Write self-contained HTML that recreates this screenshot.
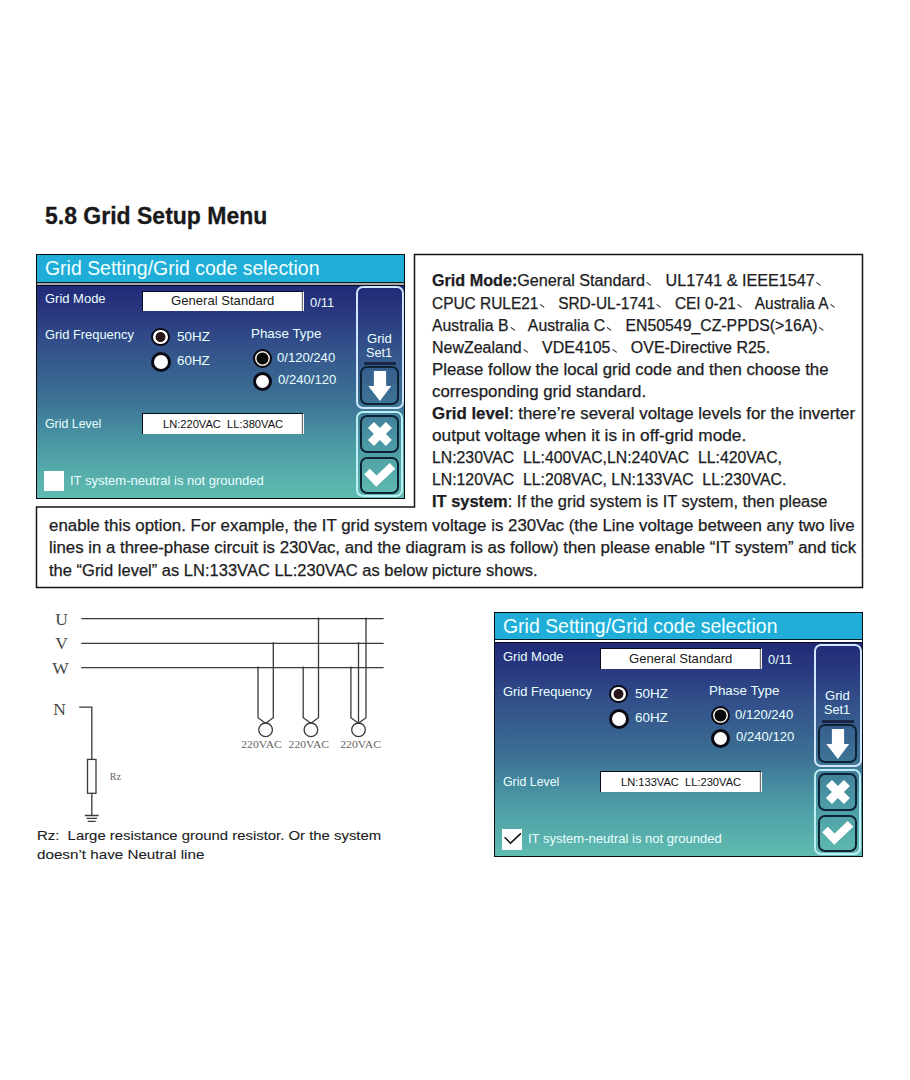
<!DOCTYPE html><html><head><meta charset="utf-8"><style>

*{margin:0;padding:0;box-sizing:border-box}
html,body{width:910px;height:1080px;background:#fff;overflow:hidden;font-family:"Liberation Sans",sans-serif}
.abs{position:absolute}
.ln{position:absolute;white-space:nowrap;color:#1c1c22;transform-origin:0 0;-webkit-text-stroke:0.25px #1c1c22}
.ln b{font-weight:bold}
.C{-webkit-text-stroke:0.1px #1c1c22}
.ic{display:inline-block;width:1em;height:1px;position:relative}
.ic::after{content:"";position:absolute;left:0.14em;top:-0.2em;width:0.34em;height:0.085em;background:#1c1c22;transform:rotate(36deg);transform-origin:0 0}
h1{position:absolute;left:45px;font-weight:bold;color:#1a1a1a;white-space:nowrap;transform-origin:0 0;-webkit-text-stroke:0.3px #1a1a1a}
.panel{position:absolute;width:369px;height:245px;overflow:hidden;background:#20aed8}
.frame{left:0;top:0;width:369px;height:245px;border:1px solid #050a10}
.panel>div,.panel>svg{position:absolute}
.tbar{left:0;top:0;width:369px;height:28px;background:#20aed8}
.sep1{left:0;top:27.5px;width:369px;height:1.5px;background:#071a22}
.sep2{left:0;top:29px;width:369px;height:2px}
.sep3{left:0;top:31px;width:369px;height:1px;background:#0a0c24}
.pbody{left:0;top:32px;width:369px;height:213px;background:linear-gradient(180deg,#222a78 0%,#2a3a80 14%,#33508a 27.7%,#3c7294 53.5%,#4a96a4 72.3%,#55aaaa 86.4%,#60bcb0 100%)}
.ttl{left:8.6px;top:2px;font-size:19.5px;line-height:24px;color:#f2ffff;white-space:nowrap}
.pt{white-space:nowrap;transform-origin:0 0}
.inp{background:#fff;border-top:1.4px solid #0a0a1e;border-left:1px solid #0a0a1e;border-right:1px solid #f4f4f4;box-shadow:inset -1.2px 0 0 #707070}
.rad{border-radius:50%;background:#fff;border:3px solid #0a0a14}
.rad.on{border-width:2px;background:radial-gradient(circle,#2a161a 0,#2a161a 4.6px,#fff 5.3px)}
.rad.on2{border-width:2.8px;background:radial-gradient(circle,#080808 0,#080808 5.6px,#f0e8dc 6.3px)}
.chk{width:20.6px;height:20.6px;background:#fff}
.ck{position:absolute}
.grp{border:2px solid #cfe6fc;border-radius:7px}
.grp2{border-color:#bdf0f4}
.dl{background:#1a2644}
.btn{border:2px solid #0e2236;border-radius:7px}
.ic2{left:0;top:0}

</style></head><body>
<h1 style="top:204.53px;font-size:23.0px;line-height:23.0px;transform:scaleX(0.9998)">5.8 Grid Setup Menu</h1>
<div class="panel" style="left:36px;top:254px">
<div class="tbar" style="height:28px"></div><div class="sep1" style="top:27.5px"></div><div class="sep2" style="background:#a8a8a8;top:29px"></div><div class="sep3" style="top:31px"></div><div class="pbody" style="top:32px;height:213px"></div>
<div class="pt" style="left:8.54px;top:5.00px;font-size:19.5px;line-height:19.5px;color:#f2ffff;transform:scaleX(0.9969);">Grid Setting/Grid code selection</div>
<div class="pt" style="left:8.65px;top:38.41px;font-size:13px;line-height:13px;color:#eaffff;transform:scaleX(0.9982);">Grid Mode</div>
<div class="inp" style="left:106px;top:36.6px;width:162px;height:20.4px"></div>
<div class="pt" style="left:135.17px;top:40.10px;font-size:13px;line-height:13px;color:#1a1a1a;transform:scaleX(1.0073);">General Standard</div>
<div class="pt" style="left:274.47px;top:41.68px;font-size:13px;line-height:13px;color:#eaffff;transform:scaleX(0.9887);">0/11</div>
<div class="pt" style="left:8.61px;top:74.44px;font-size:13px;line-height:13px;color:#eaffff;transform:scaleX(0.9918);">Grid Frequency</div>
<div class="rad on" style="left:115.1px;top:73.7px;width:18.6px;height:18.6px"></div>
<div class="rad" style="left:114.5px;top:98.25px;width:20px;height:20px"></div>
<div class="pt" style="left:140.60px;top:75.64px;font-size:13px;line-height:13px;color:#eaffff;transform:scaleX(1.0334);">50HZ</div>
<div class="pt" style="left:140.94px;top:100.00px;font-size:13px;line-height:13px;color:#eaffff;transform:scaleX(1.0325);">60HZ</div>
<div class="pt" style="left:215.05px;top:72.88px;font-size:13px;line-height:13px;color:#eaffff;transform:scaleX(1.0287);">Phase Type</div>
<div class="rad on2" style="left:216.6px;top:95px;width:19px;height:19px"></div>
<div class="rad" style="left:216.5px;top:118px;width:19.4px;height:19.4px"></div>
<div class="pt" style="left:241.41px;top:96.87px;font-size:13px;line-height:13px;color:#eaffff;transform:scaleX(1.0056);">0/120/240</div>
<div class="pt" style="left:242.16px;top:119.14px;font-size:13px;line-height:13px;color:#eaffff;transform:scaleX(1.0065);">0/240/120</div>
<div class="pt" style="left:8.52px;top:163.34px;font-size:13px;line-height:13px;color:#eaffff;transform:scaleX(0.9507);">Grid Level</div>
<div class="inp" style="left:106px;top:159px;width:162px;height:21px"></div>
<div class="pt" style="left:126.58px;top:165.12px;font-size:11.5px;line-height:11.5px;color:#111;transform:scaleX(0.9665);">LN:220VAC&nbsp; LL:380VAC</div>
<div class="chk" style="left:7.7px;top:216.8px"></div>
<div class="pt" style="left:33.65px;top:219.78px;font-size:13px;line-height:13px;color:#eaffff;transform:scaleX(1.0020);">IT system-neutral is not grounded</div>
<div class="grp" style="left:320px;top:32px;width:47.6px;height:123px"></div>
<div class="pt" style="left:331.14px;top:78.90px;font-size:12px;line-height:12px;color:#eaffff;transform:scaleX(1.0923);">Grid</div>
<div class="pt" style="left:330.16px;top:93.27px;font-size:12px;line-height:12px;color:#eaffff;transform:scaleX(1.0553);">Set1</div>
<div class="dl" style="left:328.2px;top:108.2px;width:31.6px;height:2.8px"></div>
<div class="btn" style="left:324.2px;top:112px;width:38.6px;height:39.3px"></div>
<svg class="ic2" width="369" height="245" viewBox="0 0 369 245"><polygon points="337.9,117 350.1,117 350.1,132 355.2,132 343.9,147 332.3,132 337.9,132" fill="#fff"/></svg>
<div class="grp grp2" style="left:320.3px;top:157.3px;width:47.2px;height:85.5px"></div>
<div class="btn" style="left:324.4px;top:160.8px;width:39px;height:38.2px"></div>
<div class="btn" style="left:324.4px;top:202.7px;width:39px;height:37px"></div>
<svg class="ic2" width="369" height="245" viewBox="0 0 369 245"><g transform="translate(343.9,180) rotate(45)"><rect x="-12.7" y="-4.25" width="25.4" height="8.5" fill="#fff"/><rect x="-4.25" y="-12.7" width="8.5" height="25.4" fill="#fff"/></g><polyline points="331,217.5 340.4,227.1 356.5,211.8" fill="none" stroke="#fff" stroke-width="8" stroke-linejoin="miter" stroke-linecap="butt"/></svg>
<div class="frame"></div>
</div>
<svg class="abs" style="left:0;top:0" width="910" height="1080"><path d="M414.5,254.5 H862.5 V587.5 H36.5 V507 H414.5 Z" fill="none" stroke="#141414" stroke-width="1.5"/></svg>
<div class="ln L" style="left:431.8px;top:273.33px;font-size:15.8px;line-height:15.8px;transform:scaleX(1.0231)"><b>Grid Mode:</b>General Standard<i class="ic"></i> UL1741 &amp; IEEE1547<i class="ic"></i></div>
<div class="ln L" style="left:431.8px;top:295.53px;font-size:15.8px;line-height:15.8px;transform:scaleX(0.9777)">CPUC RULE21<i class="ic"></i> SRD-UL-1741<i class="ic"></i> CEI 0-21<i class="ic"></i> Australia A<i class="ic"></i></div>
<div class="ln L" style="left:431.8px;top:317.73px;font-size:15.8px;line-height:15.8px;transform:scaleX(1.0016)">Australia B<i class="ic"></i> Australia C<i class="ic"></i> EN50549_CZ-PPDS(&gt;16A)<i class="ic"></i></div>
<div class="ln L" style="left:432px;top:339.93px;font-size:15.8px;line-height:15.8px;transform:scaleX(1.0108)">NewZealand<i class="ic"></i> VDE4105<i class="ic"></i> OVE-Directive R25.</div>
<div class="ln L" style="left:432px;top:362.03px;font-size:15.8px;line-height:15.8px;transform:scaleX(1.0624)">Please follow the local grid code and then choose the</div>
<div class="ln L" style="left:432px;top:384.03px;font-size:15.8px;line-height:15.8px;transform:scaleX(1.0645)">corresponding grid standard.</div>
<div class="ln L" style="left:432px;top:405.93px;font-size:15.8px;line-height:15.8px;transform:scaleX(1.0682)"><b>Grid level</b>: there&#8217;re several voltage levels for the inverter</div>
<div class="ln L" style="left:432px;top:427.93px;font-size:15.8px;line-height:15.8px;transform:scaleX(1.0920)">output voltage when it is in off-grid mode.</div>
<div class="ln L" style="left:432px;top:449.53px;font-size:15.8px;line-height:15.8px;transform:scaleX(0.9996)">LN:230VAC&nbsp; LL:400VAC,LN:240VAC&nbsp; LL:420VAC,</div>
<div class="ln L" style="left:432px;top:471.53px;font-size:15.8px;line-height:15.8px;transform:scaleX(0.9997)">LN:120VAC&nbsp; LL:208VAC, LN:133VAC&nbsp; LL:230VAC.</div>
<div class="ln L" style="left:432px;top:493.53px;font-size:15.8px;line-height:15.8px;transform:scaleX(1.0387)"><b>IT system</b>: If the grid system is IT system, then please</div>
<div class="ln L" style="left:49px;top:518.33px;font-size:15.8px;line-height:15.8px;transform:scaleX(1.0677)">enable this option. For example, the IT grid system voltage is 230Vac (the Line voltage between any two live</div>
<div class="ln L" style="left:49px;top:540.43px;font-size:15.8px;line-height:15.8px;transform:scaleX(1.0635)">lines in a three-phase circuit is 230Vac, and the diagram is as follow) then please enable &#8220;IT system&#8221; and tick</div>
<div class="ln L" style="left:49px;top:562.53px;font-size:15.8px;line-height:15.8px;transform:scaleX(1.0451)">the &#8220;Grid level&#8221; as LN:133VAC LL:230VAC as below picture shows.</div>
<div class="ln C" style="left:37.3px;top:828.63px;font-size:13.2px;line-height:13.2px;transform:scaleX(1.1287)">Rz:&nbsp; Large resistance ground resistor. Or the system</div>
<div class="ln C" style="left:37.3px;top:848.03px;font-size:13.2px;line-height:13.2px;transform:scaleX(1.1528)">doesn&#8217;t have Neutral line</div>
<svg class="abs" style="left:0;top:0" width="910" height="1080" viewBox="0 0 910 1080">
<g stroke="#3a3a3a" stroke-width="1.3" fill="none">
<line x1="81.3" y1="618.7" x2="383.6" y2="618.7"/>
<line x1="81.3" y1="643.3" x2="383.6" y2="643.3"/>
<line x1="81.3" y1="667.6" x2="383.6" y2="667.6"/>
<path d="M258,667.6 V717.7 L265.6,723.2 L273.3,717.7 V643.3"/><circle cx="265.6" cy="729.8" r="6.8"/>
<path d="M303.2,667.6 V717.7 L310.9,723.2 L318.5,717.7 V618.7"/><circle cx="310.9" cy="729.8" r="6.8"/>
<path d="M350.9,667.6 V717.7 L358.5,723.2 L366,717.7 V618.7"/><path d="M358.5,643.3 V723"/><circle cx="358.5" cy="729.8" r="6.8"/>
<path d="M79.2,707.2 H91.8 V759.4"/><rect x="87.5" y="759.4" width="8.5" height="33.9"/><path d="M91.8,793.3 V815.5"/>
<path d="M84.9,815.5 H98.6 M86.6,818.4 H97 M87.9,821.3 H95.7"/>
</g>
<g fill="#3a3a3a">
<circle cx="273.3" cy="643.3" r="1.1"/>
<circle cx="258" cy="667.6" r="1.1"/>
<circle cx="318.5" cy="618.7" r="1.1"/>
<circle cx="303.2" cy="667.6" r="1.1"/>
<circle cx="366" cy="618.7" r="1.1"/>
<circle cx="358.5" cy="643.3" r="1.1"/>
<circle cx="350.9" cy="667.6" r="1.1"/>
</g>
<g font-family="Liberation Serif" fill="#484848" font-size="17.5">
<text x="55.3" y="625">U</text><text x="55.3" y="649.2">V</text><text x="52.3" y="673.6">W</text><text x="53.2" y="714.6">N</text>
</g>
<g font-family="Liberation Serif" fill="#666" font-size="11.2">
<text x="241.3" y="747.6" textLength="40.5" lengthAdjust="spacingAndGlyphs">220VAC</text>
<text x="288.6" y="747.6" textLength="40.5" lengthAdjust="spacingAndGlyphs">220VAC</text>
<text x="340.2" y="747.6" textLength="40.8" lengthAdjust="spacingAndGlyphs">220VAC</text>
<text x="109.8" y="779.7" font-size="10.5" textLength="11.2" lengthAdjust="spacingAndGlyphs">Rz</text>
</g></svg>
<div class="panel" style="left:494px;top:612px">
<div class="tbar" style="height:27.2px"></div><div class="sep1" style="top:26.7px"></div><div class="sep2" style="background:#ffffff;top:28.2px"></div><div class="sep3" style="top:30.2px"></div><div class="pbody" style="top:31.2px;height:213.8px"></div>
<div class="pt" style="left:8.54px;top:4.50px;font-size:19.5px;line-height:19.5px;color:#f2ffff;transform:scaleX(0.9969);">Grid Setting/Grid code selection</div>
<div class="pt" style="left:8.65px;top:38.01px;font-size:13px;line-height:13px;color:#eaffff;transform:scaleX(0.9982);">Grid Mode</div>
<div class="inp" style="left:106px;top:36.2px;width:162px;height:20.4px"></div>
<div class="pt" style="left:135.17px;top:39.70px;font-size:13px;line-height:13px;color:#1a1a1a;transform:scaleX(1.0073);">General Standard</div>
<div class="pt" style="left:274.47px;top:41.28px;font-size:13px;line-height:13px;color:#eaffff;transform:scaleX(0.9887);">0/11</div>
<div class="pt" style="left:8.61px;top:73.44px;font-size:13px;line-height:13px;color:#eaffff;transform:scaleX(0.9918);">Grid Frequency</div>
<div class="rad on" style="left:115.1px;top:72.7px;width:18.6px;height:18.6px"></div>
<div class="rad" style="left:114.5px;top:97.25px;width:20px;height:20px"></div>
<div class="pt" style="left:140.60px;top:74.64px;font-size:13px;line-height:13px;color:#eaffff;transform:scaleX(1.0334);">50HZ</div>
<div class="pt" style="left:140.94px;top:99.00px;font-size:13px;line-height:13px;color:#eaffff;transform:scaleX(1.0325);">60HZ</div>
<div class="pt" style="left:215.05px;top:71.88px;font-size:13px;line-height:13px;color:#eaffff;transform:scaleX(1.0287);">Phase Type</div>
<div class="rad on2" style="left:216.6px;top:94.0px;width:19px;height:19px"></div>
<div class="rad" style="left:216.5px;top:117.0px;width:19.4px;height:19.4px"></div>
<div class="pt" style="left:241.41px;top:95.87px;font-size:13px;line-height:13px;color:#eaffff;transform:scaleX(1.0056);">0/120/240</div>
<div class="pt" style="left:242.16px;top:118.14px;font-size:13px;line-height:13px;color:#eaffff;transform:scaleX(1.0065);">0/240/120</div>
<div class="pt" style="left:8.52px;top:163.34px;font-size:13px;line-height:13px;color:#eaffff;transform:scaleX(0.9507);">Grid Level</div>
<div class="inp" style="left:106px;top:159px;width:162px;height:21px"></div>
<div class="pt" style="left:126.58px;top:165.12px;font-size:11.5px;line-height:11.5px;color:#111;transform:scaleX(0.9665);">LN:133VAC&nbsp; LL:230VAC</div>
<div class="chk" style="left:7.7px;top:217.4px"></div>
<svg class="ck" width="40" height="40" style="left:0;top:200px" viewBox="0 200 40 40"><polyline points="10.6,225.3 16.6,231.2 26.9,221.3" fill="none" stroke="#1a1a1a" stroke-width="1.6"/></svg>
<div class="pt" style="left:33.65px;top:220.38px;font-size:13px;line-height:13px;color:#eaffff;transform:scaleX(1.0020);">IT system-neutral is not grounded</div>
<div class="grp" style="left:320px;top:32px;width:47.6px;height:123px"></div>
<div class="pt" style="left:331.14px;top:77.90px;font-size:12px;line-height:12px;color:#eaffff;transform:scaleX(1.0923);">Grid</div>
<div class="pt" style="left:330.16px;top:92.27px;font-size:12px;line-height:12px;color:#eaffff;transform:scaleX(1.0553);">Set1</div>
<div class="dl" style="left:328.2px;top:108.2px;width:31.6px;height:2.8px"></div>
<div class="btn" style="left:324.2px;top:112px;width:38.6px;height:39.3px"></div>
<svg class="ic2" width="369" height="245" viewBox="0 0 369 245"><polygon points="337.9,117 350.1,117 350.1,132 355.2,132 343.9,147 332.3,132 337.9,132" fill="#fff"/></svg>
<div class="grp grp2" style="left:320.3px;top:157.3px;width:47.2px;height:85.5px"></div>
<div class="btn" style="left:324.4px;top:160.8px;width:39px;height:38.2px"></div>
<div class="btn" style="left:324.4px;top:202.7px;width:39px;height:37px"></div>
<svg class="ic2" width="369" height="245" viewBox="0 0 369 245"><g transform="translate(343.9,180) rotate(45)"><rect x="-12.7" y="-4.25" width="25.4" height="8.5" fill="#fff"/><rect x="-4.25" y="-12.7" width="8.5" height="25.4" fill="#fff"/></g><polyline points="331,217.5 340.4,227.1 356.5,211.8" fill="none" stroke="#fff" stroke-width="8" stroke-linejoin="miter" stroke-linecap="butt"/></svg>
<div class="frame"></div>
</div>
</body></html>
